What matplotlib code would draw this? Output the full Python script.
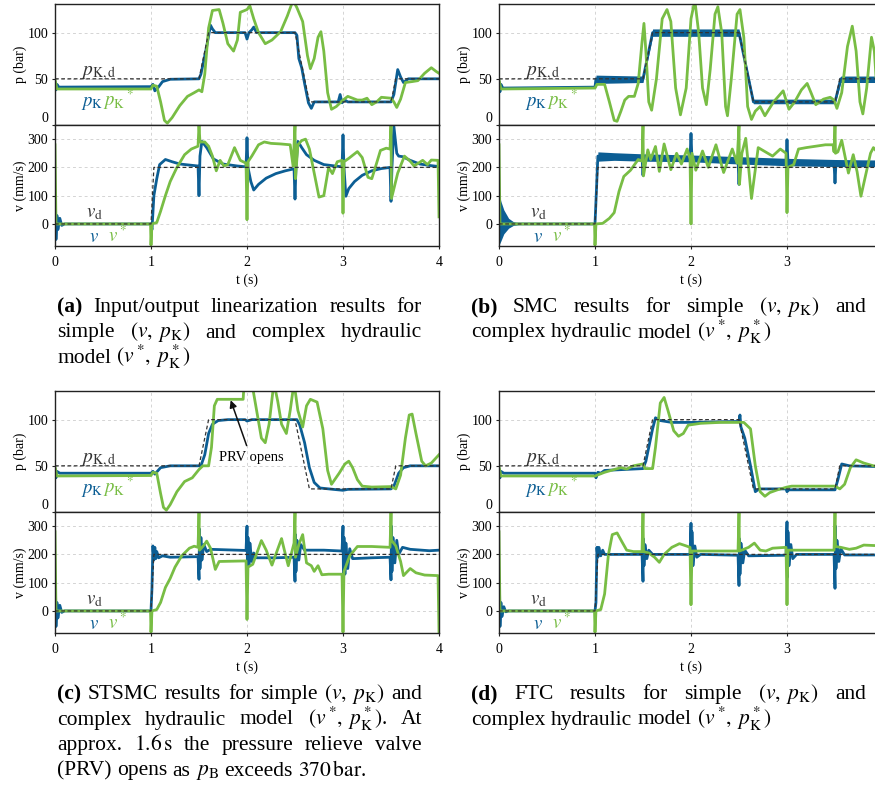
import numpy as np
import matplotlib
matplotlib.use('Agg')
import matplotlib.pyplot as plt

plt.rcParams['font.family'] = ['Liberation Serif', 'DejaVu Serif']
plt.rcParams['mathtext.fontset'] = 'stix'

W, H = 875, 800
BLUE = '#0c5e94'
GREEN = '#78bd44'
REF = '#333333'

# Sollwerte (gleich fuer alle Regler)
p_ref = [(0, 50), (1.5, 50), (1.6, 100), (2.5, 100), (2.65, 25), (3.5, 25), (3.55, 50), (4, 50)]
v_ref = [(0, 0), (1.0, 0), (1.03, 200), (4, 200)]

# (a) Ein-/Ausgangslinearisierung
pa_blue = [(0, 46), (0.01, 38), (0.02, 44), (0.04, 41), (1.0, 41.5), (1.02, 44), (1.04, 37), (1.07, 40),
           (1.12, 47), (1.2, 49.5), (1.5, 50), (1.52, 55), (1.58, 85), (1.62, 108), (1.64, 104), (1.67, 100),
           (1.98, 100), (2.0, 93), (2.02, 100), (2.05, 103), (2.07, 106), (2.1, 100), (2.5, 100), (2.52, 97),
           (2.54, 72), (2.57, 62), (2.6, 45), (2.64, 24), (2.67, 18), (2.7, 25), (2.95, 25), (2.97, 33),
           (2.99, 24), (3.02, 27), (3.05, 25), (3.5, 25), (3.53, 33), (3.57, 60), (3.6, 52), (3.63, 46),
           (3.68, 50), (4, 50)]
pa_green = [(0, 49), (0.02, 39), (1.0, 39), (1.02, 43), (1.06, 42), (1.1, 25), (1.14, 5), (1.17, 2),
            (1.22, 8), (1.3, 21), (1.38, 31), (1.45, 35), (1.5, 38), (1.53, 36), (1.56, 55), (1.6, 105),
            (1.64, 124), (1.71, 125), (1.75, 110), (1.8, 88), (1.86, 80), (1.9, 92), (1.93, 122), (2.0, 125),
            (2.03, 129), (2.07, 115), (2.12, 100), (2.19, 88), (2.26, 92), (2.35, 101), (2.42, 118),
            (2.48, 135), (2.52, 127), (2.58, 112), (2.63, 75), (2.66, 61), (2.7, 72), (2.74, 95), (2.77, 101),
            (2.8, 80), (2.84, 35), (2.88, 17), (2.93, 20), (3.0, 27), (3.05, 31), (3.1, 29), (3.15, 27),
            (3.2, 27), (3.25, 29), (3.3, 22), (3.35, 25), (3.4, 30), (3.5, 29), (3.53, 25), (3.56, 19),
            (3.6, 28), (3.65, 46), (3.72, 47), (3.78, 48), (3.85, 56), (3.92, 62), (3.97, 58), (4.0, 56)]
va_blue = [(0, 0), (0.005, 90), (0.01, -55), (0.02, 30), (0.03, -20), (0.05, 20), (0.07, -5), (0.1, 0),
           (1.0, 0), (1.01, -20), (1.03, 100), (1.06, 160), (1.09, 210), (1.15, 228), (1.22, 220),
           (1.3, 212), (1.49, 205), (1.5, 100), (1.51, 240), (1.53, 292), (1.58, 270), (1.65, 230),
           (1.75, 212), (1.9, 205), (1.99, 202), (2.0, 305), (2.01, 200), (2.04, 150), (2.07, 120),
           (2.12, 140), (2.2, 162), (2.3, 178), (2.4, 188), (2.49, 195), (2.5, 88), (2.51, 200), (2.53, 292),
           (2.57, 270), (2.62, 245), (2.7, 225), (2.8, 210), (2.99, 202), (3.0, 315), (3.01, 200),
           (3.03, 98), (3.06, 125), (3.12, 150), (3.2, 172), (3.3, 188), (3.4, 196), (3.49, 200), (3.5, 80),
           (3.51, 200), (3.53, 345), (3.56, 250), (3.58, 240), (3.62, 238), (3.7, 225), (3.8, 212),
           (3.9, 207), (4, 203)]
va_green = [(0, 280), (0.01, 0), (0.995, 0), (1.0, -75), (1.01, 0), (1.06, 5), (1.1, 45), (1.15, 100),
            (1.2, 150), (1.27, 200), (1.35, 245), (1.42, 265), (1.49, 275), (1.5, 350), (1.51, 290),
            (1.56, 290), (1.6, 275), (1.64, 240), (1.68, 188), (1.72, 225), (1.76, 205), (1.8, 210),
            (1.87, 270), (1.93, 225), (1.99, 215), (2.0, 15), (2.01, 220), (2.05, 240), (2.12, 280),
            (2.18, 290), (2.25, 285), (2.35, 283), (2.45, 280), (2.48, 205), (2.5, 350), (2.505, 160),
            (2.53, 280), (2.57, 295), (2.61, 300), (2.65, 265), (2.7, 180), (2.75, 95), (2.8, 100),
            (2.85, 200), (2.89, 178), (2.94, 220), (2.99, 225), (3.0, 38), (3.01, 220), (3.06, 232),
            (3.15, 256), (3.2, 235), (3.26, 165), (3.3, 160), (3.35, 215), (3.39, 260), (3.45, 268),
            (3.49, 265), (3.5, 350), (3.505, 90), (3.57, 180), (3.64, 240), (3.7, 222), (3.74, 205),
            (3.83, 225), (3.88, 210), (3.92, 226), (3.99, 225), (4.0, 25)]

# (b) SMC
pb_blue = [(0, 46), (0.01, 36), (0.02, 44), (0.04, 40), (1.0, 41), (1.01, 50), (1.5, 50), (1.6, 100),
           (2.5, 100), (2.65, 25), (3.5, 25), (3.56, 50), (4, 50)]
pb_band = [(1.01, 45, 54), (1.5, 46, 53), (1.6, 96, 104), (2.5, 96, 104), (2.65, 23, 28), (3.5, 23, 28),
           (3.56, 46, 53), (4.0, 46, 53)]
pb_green = [(0, 49), (0.02, 39), (1.0, 40), (1.02, 44), (1.1, 44), (1.15, 25), (1.2, 5), (1.23, 4),
            (1.27, 15), (1.31, 27), (1.35, 31), (1.41, 31), (1.45, 45), (1.49, 90), (1.51, 110), (1.53, 80),
            (1.56, 25), (1.59, 16), (1.64, 50), (1.7, 115), (1.75, 125), (1.79, 112), (1.84, 40),
            (1.89, 11), (1.95, 40), (2.0, 115), (2.04, 135), (2.08, 100), (2.12, 40), (2.16, 22),
            (2.2, 60), (2.25, 120), (2.28, 128), (2.32, 100), (2.36, 20), (2.38, 10), (2.42, 50),
            (2.48, 120), (2.51, 125), (2.55, 95), (2.59, 20), (2.63, 6), (2.67, 15), (2.72, 20), (2.77, 10),
            (2.86, 25), (2.96, 37), (3.02, 17), (3.08, 25), (3.15, 38), (3.21, 45), (3.25, 35), (3.3, 22),
            (3.38, 28), (3.45, 30), (3.49, 27), (3.52, 18), (3.57, 35), (3.63, 85), (3.68, 107),
            (3.72, 80), (3.76, 25), (3.79, 12), (3.83, 40), (3.88, 95), (3.91, 80), (3.95, 15), (4.0, 30)]
vb_blue = [(0, 0), (1.0, 0), (1.03, 240), (1.49, 236), (1.5, 172), (1.51, 236), (1.99, 232), (2.0, 320),
           (2.01, 230), (2.49, 226), (2.5, 140), (2.51, 226), (2.99, 220), (3.0, 298), (3.01, 218),
           (3.49, 216), (3.5, 145), (3.51, 216), (4, 215)]
vb_band0 = [(0, -75, 110), (0.02, -60, 80), (0.05, -35, 50), (0.1, -15, 20), (0.15, -5, 8), (0.22, -1, 1)]
vb_band1 = [(1.03, 222, 255), (1.2, 225, 252), (1.5, 222, 248), (2.0, 220, 244), (2.5, 212, 238),
            (3.0, 206, 232), (3.5, 203, 228), (4.0, 203, 226)]
vb_green = [(0, 280), (0.01, 0), (0.995, 0), (1.0, -75), (1.01, 0), (1.08, 2), (1.15, 20), (1.2, 40),
            (1.25, 115), (1.3, 168), (1.37, 190), (1.45, 228), (1.49, 222), (1.5, 350), (1.505, 170),
            (1.55, 262), (1.58, 228), (1.63, 274), (1.67, 186), (1.72, 283), (1.79, 192), (1.85, 250),
            (1.9, 212), (1.96, 265), (1.99, 230), (2.0, 0), (2.01, 250), (2.05, 190), (2.12, 258),
            (2.18, 200), (2.26, 280), (2.34, 182), (2.43, 265), (2.48, 215), (2.5, 350), (2.505, 140),
            (2.53, 250), (2.57, 303), (2.6, 200), (2.63, 90), (2.7, 270), (2.8, 250), (2.85, 240),
            (2.93, 265), (2.99, 250), (3.0, 40), (3.01, 200), (3.07, 210), (3.12, 265), (3.2, 270),
            (3.3, 275), (3.4, 280), (3.48, 280), (3.49, 255), (3.5, 350), (3.505, 250), (3.53, 255),
            (3.57, 296), (3.64, 180), (3.69, 245), (3.73, 185), (3.77, 98), (3.87, 250), (3.9, 270),
            (4.0, 230)]

# (c) STSMC
pc_blue = [(0, 46), (0.01, 37), (0.02, 44), (0.05, 42), (1.0, 42), (1.02, 44), (1.04, 41), (1.1, 48),
           (1.2, 50), (1.52, 50), (1.56, 62), (1.6, 85), (1.64, 95), (1.7, 99), (1.8, 100), (1.98, 100),
           (2.0, 98.5), (2.05, 100), (2.52, 100), (2.55, 94), (2.6, 75), (2.65, 48), (2.7, 32), (2.76, 26),
           (2.9, 24.5), (3.0, 23.5), (3.05, 24.5), (3.5, 25), (3.53, 28), (3.58, 42), (3.63, 48),
           (3.7, 50), (4, 50)]
pc_green = [(0, 49), (0.02, 39), (1.0, 39.5), (1.02, 43), (1.06, 42), (1.1, 20), (1.13, 5), (1.16, 2),
            (1.2, 8), (1.27, 22), (1.35, 33), (1.43, 37), (1.5, 46), (1.54, 50), (1.6, 50), (1.63, 70),
            (1.66, 115), (1.69, 122), (1.96, 122), (1.97, 140), (2.05, 140), (2.1, 110), (2.15, 80),
            (2.19, 75), (2.23, 95), (2.28, 140), (2.32, 120), (2.36, 95), (2.41, 85), (2.45, 110),
            (2.49, 140), (2.53, 110), (2.58, 92), (2.62, 115), (2.66, 122), (2.73, 119), (2.79, 90),
            (2.84, 45), (2.88, 30), (2.96, 42), (3.02, 52), (3.06, 55), (3.1, 48), (3.15, 35), (3.2, 28),
            (3.3, 27), (3.5, 27.5), (3.55, 25), (3.6, 40), (3.65, 80), (3.69, 105), (3.72, 106),
            (3.76, 85), (3.82, 55), (3.86, 50), (3.92, 53), (4.0, 62)]
vc_blue = [(0, 0), (0.005, 90), (0.01, -55), (0.02, 30), (0.03, -25), (0.05, 20), (0.07, -5), (0.1, 0),
           (1.0, 0), (1.01, 80), (1.02, 230), (1.03, 180), (1.04, 225), (1.05, 185), (1.06, 210),
           (1.08, 188), (1.12, 195), (1.2, 190), (1.49, 192), (1.5, 112), (1.505, 290), (1.51, 150),
           (1.52, 260), (1.53, 180), (1.55, 235), (1.58, 210), (1.62, 218), (1.8, 216), (1.99, 214),
           (2.0, 300), (2.005, 150), (2.01, 260), (2.02, 160), (2.03, 240), (2.05, 175), (2.07, 205),
           (2.1, 188), (2.3, 188), (2.49, 190), (2.5, 105), (2.505, 270), (2.51, 140), (2.52, 250),
           (2.54, 180), (2.56, 235), (2.6, 215), (2.8, 215), (2.99, 212), (3.0, 300), (3.005, 110),
           (3.01, 260), (3.02, 130), (3.03, 240), (3.05, 150), (3.07, 220), (3.1, 185), (3.3, 188),
           (3.49, 190), (3.5, 110), (3.505, 300), (3.51, 140), (3.52, 260), (3.54, 170), (3.56, 250),
           (3.58, 200), (3.62, 225), (3.7, 218), (3.9, 213), (4.0, 215)]
vc_green = [(0, 280), (0.01, 0), (0.995, 0), (1.0, -75), (1.01, 0), (1.06, 5), (1.1, 30), (1.15, 83),
            (1.2, 115), (1.25, 155), (1.32, 195), (1.4, 222), (1.45, 229), (1.49, 225), (1.5, 350),
            (1.505, 215), (1.55, 232), (1.58, 247), (1.62, 222), (1.67, 147), (1.71, 175), (1.99, 177),
            (2.0, -30), (2.01, 155), (2.06, 165), (2.15, 249), (2.2, 215), (2.26, 162), (2.3, 200),
            (2.36, 256), (2.4, 200), (2.43, 160), (2.49, 240), (2.5, 350), (2.505, 190), (2.54, 235),
            (2.58, 270), (2.62, 170), (2.67, 160), (2.7, 140), (2.74, 160), (2.78, 128), (2.85, 130),
            (2.99, 130), (3.0, -75), (3.01, 140), (3.07, 195), (3.15, 228), (3.3, 228), (3.49, 225),
            (3.5, 350), (3.505, 250), (3.55, 230), (3.6, 175), (3.63, 125), (3.7, 150), (3.76, 135),
            (3.85, 127), (3.99, 125), (4.0, -75)]

# (d) FTC
pd_blue = [(0, 46), (0.01, 37), (0.02, 44), (0.05, 42), (1.0, 42), (1.01, 37), (1.03, 43), (1.06, 42),
           (1.1, 45), (1.3, 46), (1.5, 47), (1.53, 55), (1.6, 90), (1.63, 102), (1.68, 99), (1.8, 97),
           (2.0, 97), (2.5, 98), (2.51, 105), (2.52, 92), (2.56, 80), (2.62, 50), (2.67, 22), (2.71, 25),
           (2.99, 25), (3.0, 22), (3.02, 24), (3.5, 24), (3.53, 35), (3.57, 52), (3.65, 50), (4, 49)]
pd_green = [(0, 49), (0.02, 39), (1.0, 39), (1.1, 43), (1.2, 46), (1.27, 48), (1.33, 46.5), (1.4, 50),
            (1.5, 52), (1.52, 47), (1.6, 47), (1.63, 70), (1.68, 118), (1.72, 124), (1.76, 110),
            (1.82, 88), (1.87, 82), (1.92, 85), (1.97, 94), (2.1, 96), (2.3, 97), (2.55, 97), (2.58, 94),
            (2.62, 90), (2.67, 50), (2.72, 22), (2.77, 17), (2.82, 21), (2.9, 24), (3.0, 27), (3.05, 28),
            (3.5, 28), (3.55, 25), (3.6, 30), (3.66, 48), (3.72, 56.5), (3.8, 53), (3.9, 50), (4.0, 49.5)]
vd_blue = [(0, 0), (0.005, 100), (0.01, -55), (0.02, 30), (0.03, -20), (0.05, 15), (0.07, -3), (0.1, 0),
           (1.0, 0), (1.01, 30), (1.02, 225), (1.03, 190), (1.04, 225), (1.06, 195), (1.08, 215),
           (1.1, 200), (1.49, 200), (1.5, 105), (1.505, 255), (1.51, 160), (1.52, 235), (1.54, 185),
           (1.56, 215), (1.6, 200), (1.99, 200), (2.0, 310), (2.005, 150), (2.01, 280), (2.02, 160),
           (2.04, 230), (2.06, 190), (2.1, 200), (2.49, 197), (2.5, 90), (2.505, 255), (2.51, 130),
           (2.52, 240), (2.54, 170), (2.56, 215), (2.6, 195), (2.99, 197), (3.0, 315), (3.005, 120),
           (3.01, 280), (3.02, 160), (3.04, 235), (3.06, 185), (3.1, 200), (3.49, 200), (3.5, 80),
           (3.505, 300), (3.51, 150), (3.52, 250), (3.54, 175), (3.56, 220), (3.6, 198), (4.0, 198)]
vd_green = [(0, 280), (0.01, 0), (0.995, 0), (1.0, -75), (1.01, 0), (1.06, 5), (1.1, 60), (1.14, 200),
            (1.18, 270), (1.23, 276), (1.28, 245), (1.33, 215), (1.4, 210), (1.49, 210), (1.5, 350),
            (1.505, 210), (1.56, 205), (1.62, 190), (1.67, 172), (1.72, 200), (1.8, 225), (1.88, 238),
            (1.95, 230), (1.99, 225), (2.0, 22), (2.01, 212), (2.49, 212), (2.5, 350), (2.505, 212),
            (2.6, 225), (2.66, 240), (2.72, 215), (2.78, 212), (2.85, 222), (2.99, 225), (3.0, 22),
            (3.01, 215), (3.49, 215), (3.5, 350), (3.505, 228), (3.56, 225), (3.65, 218), (3.72, 222),
            (3.8, 233), (4.0, 230)]

cap_a = ['(a) Input/output linearization results for',
         r'simple $(v,\;p_\mathrm{K})$ and complex hydraulic',
         r'model $(v^*\!,\;p_\mathrm{K}^*)$']
cap_b = [r'(b) SMC results for simple $(v,\;p_\mathrm{K})$ and',
         r'complex hydraulic model $(v^*\!,\;p_\mathrm{K}^*)$']
cap_c = [r'(c) STSMC results for simple $(v,\;p_\mathrm{K})$ and',
         r'complex hydraulic model $(v^*\!,\;p_\mathrm{K}^*)$. At',
         r'approx. $1.6\,\mathrm{s}$ the pressure relieve valve',
         r'(PRV) opens as $p_\mathrm{B}$ exceeds $370\,\mathrm{bar}$.']
cap_d = [r'(d) FTC results for simple $(v,\;p_\mathrm{K})$ and',
         r'complex hydraulic model $(v^*\!,\;p_\mathrm{K}^*)$']

fig = plt.figure(figsize=(W / 100, H / 100), dpi=100)


def box(left, top, width, height):
    return [left / W, 1 - (top + height) / H, width / W, height / H]


def xy(points):
    arr = np.array(points, dtype=float)
    return arr[:, 0], arr[:, 1]


def style(ax, xticks):
    ax.set_xlim(0, 4)
    ax.set_xticks(xticks)
    ax.grid(True, color='#d4d4d4', lw=0.7, ls=(0, (3, 3)))
    ax.set_axisbelow(True)
    for s in ax.spines.values():
        s.set_linewidth(1.0)
        s.set_color('#222222')
    ax.tick_params(labelsize=10, length=2.5, width=0.8, color='#222222', pad=2.5)
    ax.tick_params(axis='x', pad=5)


def panel(left, top, xticks, p_blue, p_green, v_blue, v_green, p_band=None, v_bands=()):
    ax_p = fig.add_axes(box(left, top, 384, 121))
    ax_v = fig.add_axes(box(left, top + 121, 384, 121))
    style(ax_p, xticks)
    style(ax_v, xticks)

    # Druck
    if p_band is not None:
        b = np.array(p_band, dtype=float)
        ax_p.fill_between(b[:, 0], b[:, 1], b[:, 2], color=BLUE, lw=0)
    ax_p.plot(*xy(p_blue), color=BLUE, lw=2.0)
    ax_p.plot(*xy(p_green), color=GREEN, lw=2.0)
    ax_p.plot(*xy(p_ref), color=REF, lw=0.9, ls=(0, (3, 2)))
    ax_p.set_ylim(0, 131)
    ax_p.set_yticks([0, 50, 100])
    ax_p.tick_params(axis='x', length=0, labelbottom=False)
    ax_p.yaxis.get_major_ticks()[0].label1.set_va('bottom')
    ax_p.set_ylabel('p (bar)', fontsize=10)
    ax_p.yaxis.set_label_coords(-0.072, 0.5)
    ax_p.text(0.45, 54, r'$p_{\mathrm{K,d}}$', color=REF, fontsize=14, ha='center', va='baseline')
    ax_p.text(0.39, 21, r'$p_\mathrm{K}$', color=BLUE, fontsize=13.5, ha='center', va='baseline')
    ax_p.text(0.665, 21, r'${p_\mathrm{K}}^*$', color=GREEN, fontsize=13.5, ha='center', va='baseline')

    # Geschwindigkeit
    for band in v_bands:
        b = np.array(band, dtype=float)
        ax_v.fill_between(b[:, 0], b[:, 1], b[:, 2], color=BLUE, lw=0)
    ax_v.plot(*xy(v_blue), color=BLUE, lw=2.0)
    ax_v.plot(*xy(v_green), color=GREEN, lw=2.0)
    ax_v.plot(*xy(v_ref), color=REF, lw=0.9, ls=(0, (3, 2)))
    ax_v.set_ylim(-78, 350)
    ax_v.set_yticks([0, 100, 200, 300])
    ax_v.set_ylabel('v (mm/s)', fontsize=10)
    ax_v.yaxis.set_label_coords(-0.072, 0.5)
    ax_v.set_xlabel('t (s)', fontsize=10, labelpad=3)
    ax_v.text(0.41, 25, r'$v_\mathrm{d}$', color=REF, fontsize=13.5, ha='center', va='baseline')
    ax_v.text(0.41, -65, r'$v$', color=BLUE, fontsize=13.5, ha='center', va='baseline')
    ax_v.text(0.65, -65, r'$v^*$', color=GREEN, fontsize=13.5, ha='center', va='baseline')
    return ax_p, ax_v


def caption(x0, x1, base, lines, size=15.5, lead=25.5):
    r = fig.canvas.get_renderer()
    space = size / 72 * 100 * 0.25
    for i, line in enumerate(lines):
        words = line.split(' ')
        y = 1 - (base + i * lead) / H
        objs = []
        for j, w in enumerate(words):
            weight = 'bold' if (i == 0 and j == 0) else 'normal'
            objs.append(fig.text(0, y, w, fontsize=size, fontweight=weight, ha='left', va='baseline'))
        widths = [t.get_window_extent(r).width for t in objs]
        if i == len(lines) - 1 or len(objs) < 2:
            gap = space
        else:
            gap = (x1 - x0 - sum(widths)) / (len(objs) - 1)
        x = x0
        for t, w in zip(objs, widths):
            t.set_x(x / W)
            x += w + gap


left_ticks = [0, 1, 2, 3, 4]
right_ticks = [0, 1, 2, 3]
panel(55, 4, left_ticks, pa_blue, pa_green, va_blue, va_green)
panel(499, 4, right_ticks, pb_blue, pb_green, vb_blue, vb_green, p_band=pb_band, v_bands=(vb_band0, vb_band1))
ax_cp, _ = panel(55, 391, left_ticks, pc_blue, pc_green, vc_blue, vc_green)
panel(499, 391, right_ticks, pd_blue, pd_green, vd_blue, vd_green)

ax_cp.annotate('PRV opens', xy=(1.83, 121), xytext=(2.04, 59), fontsize=10.5, ha='center', va='center',
               arrowprops=dict(arrowstyle='-|>', color='#111111', lw=1.1, shrinkA=2, shrinkB=0))

caption(57, 422, 312, cap_a)
caption(471, 866, 312, cap_b)
caption(57, 422, 699, cap_c)
caption(471, 866, 699, cap_d)

fig.savefig('out.png', dpi=100)
